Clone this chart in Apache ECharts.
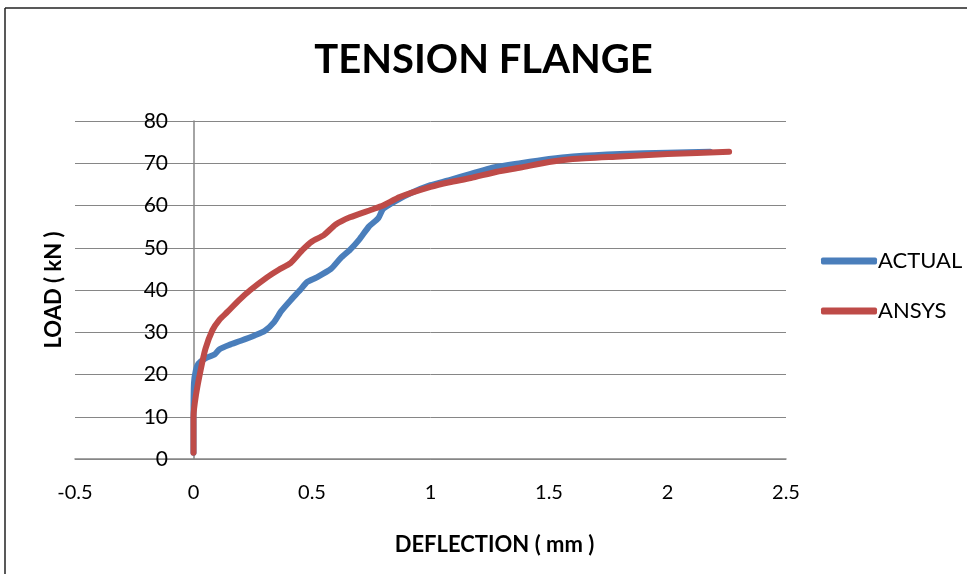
<!DOCTYPE html>
<html>
<head>
<meta charset="utf-8">
<script src="https://cdn.jsdelivr.net/npm/echarts@6/dist/echarts.min.js"></script>
<style>
  html, body { margin: 0; padding: 0; background: #fff; }
  #chart { width: 967px; height: 574px; }
</style>
</head>
<body>
<div id="chart"></div>
<script>
// Load–deflection curves for the tension flange: test readings vs. FE model
const actualDeflection = [0, 0, 0, 0.002, 0.01, 0.02, 0.05, 0.09, 0.11, 0.15, 0.2, 0.26, 0.3, 0.34, 0.37, 0.41, 0.45, 0.48, 0.52, 0.58, 0.62, 0.66, 0.7, 0.74, 0.78, 0.8, 0.85, 0.92, 1.0, 1.08, 1.17, 1.25, 1.38, 1.5, 1.6, 1.8, 2.0, 2.18];
const actualLoad       = [1.5, 5, 10, 18, 21, 22.5, 23.8, 24.8, 26, 27, 28, 29.3, 30.3, 32.4, 35, 37.6, 40, 41.9, 43, 45, 47.5, 49.5, 52, 55, 57, 59.2, 61, 63, 64.8, 66, 67.5, 68.8, 70, 71, 71.6, 72.2, 72.5, 72.7];

const ansysDeflection = [0, 0, 0.01, 0.03, 0.05, 0.08, 0.11, 0.143, 0.19, 0.24, 0.31, 0.36, 0.41, 0.46, 0.5, 0.55, 0.6, 0.66, 0.75, 0.8, 0.87, 1.0, 1.08, 1.17, 1.28, 1.38, 1.5, 1.6, 1.8, 2.0, 2.26];
const ansysLoad       = [1.5, 10, 15, 21, 26, 30.5, 33, 34.8, 37.5, 40, 43, 44.8, 46.4, 49.5, 51.5, 53, 55.5, 57.2, 59, 60, 62, 64.4, 65.5, 66.5, 68, 69, 70.3, 71, 71.6, 72.2, 72.7];

const seriesNames = ['ACTUAL', 'ANSYS'];
const seriesColors = ['#4a7ebb', '#be4b48'];

const pairs = (xs, ys) => xs.map((x, i) => [x, ys[i]]);

const FONT = 'Lato, "Open Sans", sans-serif';
const chart = echarts.init(document.getElementById('chart'), null, { renderer: 'canvas' });

chart.setOption({
  backgroundColor: '#ffffff',
  animation: false,
  title: {
    text: 'TENSION FLANGE',
    left: 'center',
    top: 35,
    textStyle: { fontFamily: FONT, fontWeight: 'bold', fontSize: 40, color: '#000' }
  },
  legend: {
    orient: 'vertical',
    left: 816,
    top: 245,
    itemGap: 28,
    itemWidth: 56,
    itemHeight: 7,
    icon: 'roundRect',
    textStyle: { fontFamily: FONT, fontSize: 22, color: '#000', padding: [0, 0, 0, -4] },
    data: seriesNames
  },
  grid: { left: 75, right: 181, top: 121, bottom: 115, containLabel: false, outerBoundsMode: 'none' },
  xAxis: {
    type: 'value',
    min: -0.5, max: 2.5, interval: 0.5,
    name: 'DEFLECTION ( mm )',
    nameLocation: 'middle',
    nameGap: 75,
    nameTextStyle: { fontFamily: FONT, fontWeight: 'bold', fontSize: 22, color: '#000', padding: [0, 0, 0, 128] },
    axisLine: { show: true, onZero: true, lineStyle: { color: '#868686', width: 1.5 } },
    axisTick: { show: false },
    splitLine: { show: false },
    axisLabel: { fontFamily: FONT, fontSize: 20, color: '#000', margin: 24 }
  },
  yAxis: {
    type: 'value',
    min: 0, max: 80, interval: 10,
    name: 'LOAD ( kN )',
    nameLocation: 'middle',
    nameGap: 10,
    nameRotate: 90,
    nameTextStyle: { fontFamily: FONT, fontWeight: 'bold', fontSize: 22, color: '#000' },
    axisLine: { show: true, onZero: true, lineStyle: { color: '#868686', width: 1.5 } },
    axisTick: { show: false },
    splitLine: { show: true, lineStyle: { color: '#868686', width: 1 } },
    axisLabel: { fontFamily: FONT, fontSize: 21, color: '#000', margin: -93 }
  },
  graphic: [
    { type: 'line', shape: { x1: 5, y1: 8, x2: 967, y2: 8 }, style: { stroke: '#222', lineWidth: 1.5 } },
    { type: 'line', shape: { x1: 5, y1: 8, x2: 5, y2: 574 }, style: { stroke: '#222', lineWidth: 1.5 } }
  ],
  series: [
    {
      name: seriesNames[0], type: 'line', showSymbol: false, smooth: 0.2,
      lineStyle: { width: 6, color: seriesColors[0], cap: 'round', join: 'round' },
      itemStyle: { color: seriesColors[0] },
      data: pairs(actualDeflection, actualLoad)
    },
    {
      name: seriesNames[1], type: 'line', showSymbol: false, smooth: 0.2,
      lineStyle: { width: 6, color: seriesColors[1], cap: 'round', join: 'round' },
      itemStyle: { color: seriesColors[1] },
      data: pairs(ansysDeflection, ansysLoad)
    }
  ]
});
</script>
</body>
</html>
